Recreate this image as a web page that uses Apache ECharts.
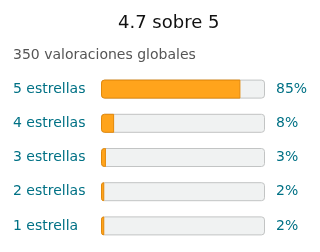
<!DOCTYPE html>
<html>
<head>
<meta charset="utf-8">
<script src="https://cdn.jsdelivr.net/npm/echarts@6/dist/echarts.min.js"></script>
<style>
  html, body { margin: 0; padding: 0; background: #fff; }
  #chart { width: 320px; height: 252px; }
</style>
</head>
<body>
<div id="chart"></div>
<script>
var categories = ["5 estrellas", "4 estrellas", "3 estrellas", "2 estrellas", "1 estrella"];
var percents = [85, 8, 3, 2, 2];
var track = [100, 100, 100, 100, 100];

var myChart = echarts.init(document.getElementById("chart"));
var font = "DejaVu Sans";

var option = {
  animation: false,
  title: [
    {
      text: "4.7 sobre 5",
      left: 118,
      top: 14,
      padding: 0,
      textStyle: { fontFamily: font, fontSize: 18, fontWeight: "normal", color: "#111" }
    },
    {
      text: "350 valoraciones globales",
      left: 13,
      top: 48,
      padding: 0,
      textStyle: { fontFamily: font, fontSize: 14, fontWeight: "normal", color: "#555" }
    }
  ],
  grid: { left: 101, right: 55, top: 72, bottom: 9 },
  xAxis: { type: "value", min: 0, max: 100, show: false },
  yAxis: {
    type: "category",
    data: categories,
    inverse: true,
    axisLine: { show: false },
    axisTick: { show: false },
    axisLabel: {
      align: "left",
      margin: 88,
      fontFamily: font,
      fontSize: 14,
      color: "#007185"
    }
  },
  series: [
    {
      type: "bar",
      data: track,
      barWidth: 19,
      silent: true,
      itemStyle: { color: "#f0f2f2", borderColor: "#c2c4c4", borderWidth: 1, borderRadius: 3 },
      label: {
        show: true,
        position: "right",
        distance: 11,
        fontFamily: font,
        fontSize: 14,
        color: "#007185",
        formatter: function (p) { return percents[p.dataIndex] + "%"; }
      }
    },
    {
      type: "bar",
      data: percents,
      barWidth: 19,
      barGap: "-100%",
      silent: true,
      itemStyle: { color: "#ffa41c", borderColor: "#e3890a", borderWidth: 1, borderRadius: [3, 0, 0, 3] }
    }
  ]
};
myChart.setOption(option);
</script>
</body>
</html>
